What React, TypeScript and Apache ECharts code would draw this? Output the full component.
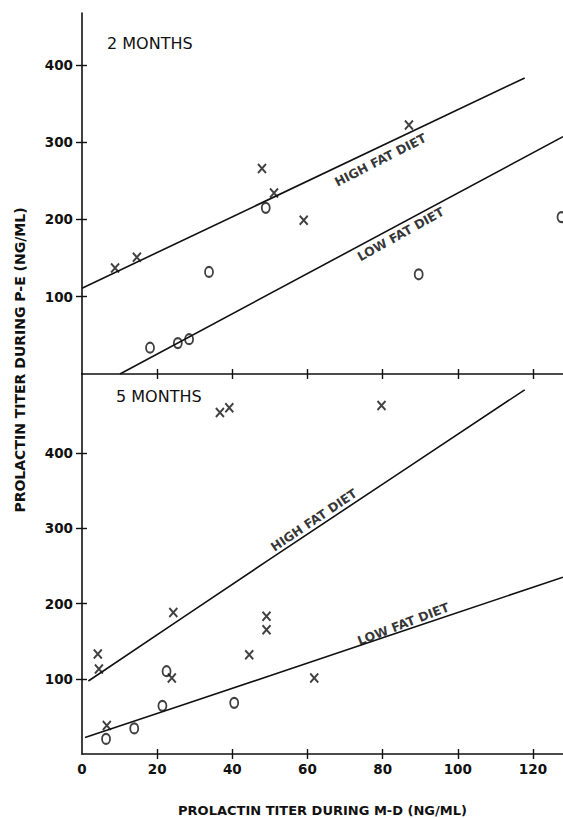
import React, { useEffect, useRef } from "react";
import * as echarts from "echarts";

// ---- data ----
const xLabelValues = [0, 20, 40, 60, 80, 100, 120];
const xTickValues = [20, 40, 60, 80, 100, 120];
const yTickValues = [100, 200, 300, 400];

// 2 months panel
const highFat2 = [[8.8, 137], [14.6, 151], [47.9, 266], [51.1, 234], [59, 199], [87, 322]];
const lowFat2 = [[18.1, 34], [25.5, 40], [28.5, 45], [33.8, 132], [48.9, 215], [89.6, 129], [127.6, 203]];
const highFatFit2 = [[0, 111], [117.8, 383]];
const lowFatFit2 = [[10.1, 0], [128, 307]];

// 5 months panel
const highFat5 = [[36.7, 454], [39.2, 460], [4.2, 133], [4.5, 113], [24.3, 188], [23.9, 101], [6.6, 38], [44.5, 132], [49.1, 183], [49.1, 165], [79.7, 463], [61.8, 101]];
const lowFat5 = [[22.5, 110], [6.4, 20], [13.9, 34], [21.4, 64], [40.5, 68]];
const highFatFit5 = [[1.7, 97], [50, 259], [117.8, 484]];
const lowFatFit5 = [[0.8, 22], [50, 104], [128, 235]];

// line-label anchors (data coords) and rotation
const lineLabels2 = [
  { text: "HIGH FAT DIET", at: [79.4, 277], rot: 27 },
  { text: "LOW FAT DIET", at: [84.8, 181], rot: 29 },
];
const lineLabels5 = [
  { text: "HIGH FAT DIET", at: [61.7, 311], rot: 34 },
  { text: "LOW FAT DIET", at: [85.5, 173], rot: 21 },
];

const FONT = "DejaVu Sans";
const INK = "#111";
const X_SYMBOL = "path://M0,0L10,12M10,0L0,12";
const O_SYMBOL = "path://M5,0A5,6,0,1,1,5,12A5,6,0,1,1,5,0Z";

function makeXAxes(gridIndex: number, labels: boolean) {
  const base = {
    type: "value",
    gridIndex,
    position: "bottom",
    min: 0,
    max: 128,
    interval: 20,
    splitLine: { show: false },
  };
  return [
    {
      ...base,
      axisLine: { show: true, onZero: false, lineStyle: { color: INK, width: 1.6 } },
      axisTick: { show: true, inside: false, length: 5, customValues: xTickValues, lineStyle: { color: INK, width: 1.4 } },
      axisLabel: labels
        ? { show: true, customValues: xLabelValues, margin: 8, color: INK, fontFamily: FONT, fontWeight: "bold", fontSize: 13.5 }
        : { show: false },
      name: labels ? "PROLACTIN TITER DURING M-D (NG/ML)" : "",
      nameLocation: "middle",
      nameGap: 50,
      nameTextStyle: { color: INK, fontFamily: FONT, fontWeight: "bold", fontSize: 13 },
    },
    {
      ...base,
      axisLine: { show: false, onZero: false },
      axisTick: { show: true, inside: true, length: 5, customValues: xTickValues, lineStyle: { color: INK, width: 1.4 } },
      axisLabel: { show: false },
    },
  ];
}

function makeYAxes(gridIndex: number, max: number) {
  const base = {
    type: "value",
    gridIndex,
    position: "left",
    min: 0,
    max,
    interval: 100,
    splitLine: { show: false },
  };
  return [
    {
      ...base,
      axisLine: { show: true, onZero: false, lineStyle: { color: INK, width: 1.6 } },
      axisTick: { show: true, inside: false, length: 6, customValues: yTickValues, lineStyle: { color: INK, width: 1.4 } },
      axisLabel: { show: true, customValues: yTickValues, margin: 9, color: INK, fontFamily: FONT, fontWeight: "bold", fontSize: 13.5 },
    },
    {
      ...base,
      axisLine: { show: false, onZero: false },
      axisTick: { show: true, inside: true, length: 5, customValues: yTickValues, lineStyle: { color: INK, width: 1.4 } },
      axisLabel: { show: false },
    },
  ];
}

function scatter(data: number[][], symbol: string, size: number[], axis: number) {
  return {
    type: "scatter",
    xAxisIndex: axis,
    yAxisIndex: axis,
    data,
    symbol,
    symbolSize: size,
    itemStyle: { color: "transparent", borderColor: INK, borderWidth: 2 },
    silent: true,
  };
}

function fitLine(data: number[][], axis: number) {
  return {
    type: "line",
    xAxisIndex: axis,
    yAxisIndex: axis,
    data,
    showSymbol: false,
    smooth: 0.15,
    lineStyle: { color: INK, width: 1.6 },
    silent: true,
  };
}

function lineLabelSeries(items: { text: string; at: number[]; rot: number }[], axis: number) {
  return items.map((it) => ({
    type: "scatter",
    xAxisIndex: axis,
    yAxisIndex: axis,
    symbolSize: 0,
    silent: true,
    data: [it.at],
    label: {
      show: true,
      position: "inside",
      formatter: it.text,
      rotate: it.rot,
      color: "#000",
      fontFamily: FONT,
      fontWeight: "bold",
      fontSize: 12.5,
    },
  }));
}

export default function App() {
  const ref = useRef<HTMLDivElement>(null);
  useEffect(() => {
    if (!ref.current) return;
    const chart = echarts.init(ref.current, undefined, { renderer: "svg" });
    const option = {
      animation: false,
      backgroundColor: "#fff",
      grid: [
        { left: 82, top: 13, width: 481, height: 361 },
        { left: 82, top: 374, width: 481, height: 386 },
      ],
      xAxis: [...makeXAxes(0, false), ...makeXAxes(1, true)],
      yAxis: [...makeYAxes(0, 467), ...makeYAxes(1, 505)],
      graphic: [
        {
          type: "text",
          x: 20,
          y: 360,
          rotation: Math.PI / 2,
          style: {
            text: "PROLACTIN TITER DURING P-E (NG/ML)",
            fill: INK,
            font: `bold 14px "${FONT}"`,
            textAlign: "center",
            textVerticalAlign: "middle",
          },
        },
        {
          type: "text",
          x: 107,
          y: 43,
          style: { text: "2 MONTHS", fill: INK, font: `16px "${FONT}"`, textAlign: "left", textVerticalAlign: "middle" },
        },
        {
          type: "text",
          x: 116,
          y: 396,
          style: { text: "5 MONTHS", fill: INK, font: `16px "${FONT}"`, textAlign: "left", textVerticalAlign: "middle" },
        },
      ],
      series: [
        fitLine(highFatFit2, 0),
        fitLine(lowFatFit2, 0),
        scatter(highFat2, X_SYMBOL, [8, 9], 0),
        scatter(lowFat2, O_SYMBOL, [8, 10], 0),
        ...lineLabelSeries(lineLabels2, 0),
        fitLine(highFatFit5, 2),
        fitLine(lowFatFit5, 2),
        scatter(highFat5, X_SYMBOL, [8, 9], 2),
        scatter(lowFat5, O_SYMBOL, [8, 10], 2),
        ...lineLabelSeries(lineLabels5, 2),
      ],
    };
    chart.setOption(option as any);
    return () => chart.dispose();
  }, []);
  return (
    <div
      ref={ref}
      style={{ position: "absolute", left: 0, top: 0, width: 563, height: 818, background: "#fff" }}
    />
  );
}
